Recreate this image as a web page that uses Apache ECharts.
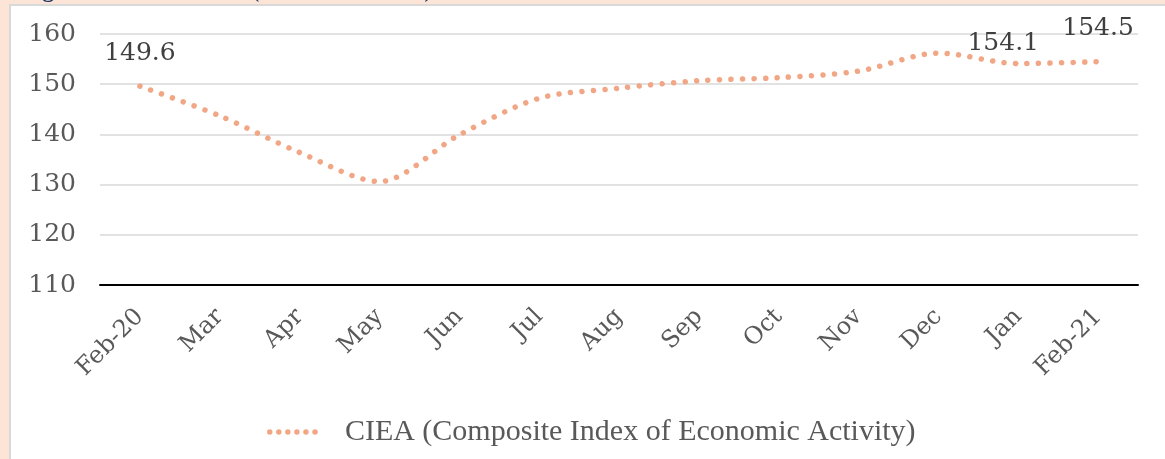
<!DOCTYPE html>
<html lang="en">
<head>
<meta charset="UTF-8">
<title>CIEA</title>
<script src="https://cdn.jsdelivr.net/npm/echarts@6/dist/echarts.min.js"></script>
<style>
  *{margin:0;}
  html,body{height:100%;}
  #chart{width:1165px;height:459px;}
</style>
</head>
<body>
<div id="chart"></div>
<script>
  // months on the x axis
  const months = ['Feb-20','Mar','Apr','May','Jun','Jul','Aug','Sep','Oct','Nov','Dec','Jan','Feb-21'];
  // CIEA values
  const ciea = [149.6, 143.7, 136.4, 130.6, 139.9, 147.2, 149.2, 150.7, 151.3, 152.6, 156.2, 154.1, 154.5];
  // points that show their value
  const labelled = [0, 11, 12];
  // y axis ticks
  const yMin = 110, yMax = 160, yStep = 10;

  const seriesName = 'CIEA (Composite Index of Economic Activity)';
  const lineColor = '#F1A785';
  const textColor = '#595959';

  // six dots for the legend icon
  let dots = '';
  for (let i = 0; i < 6; i++) {
      let cx = 2.75 + i * 9.05;
      dots += `M${cx - 2.75} 2.75a2.75 2.75 0 1 0 5.5 0a2.75 2.75 0 1 0 -5.5 0Z`;
  }

  let chart = echarts.init(document.getElementById('chart'));

  let data = ciea.map((v, i) => {
      if (labelled.indexOf(i) < 0) return {value: v, symbol: 'none'};
      let d = {value: v, label: {show: true}};
      if (i == 11) d.label.offset = [-15, 13];   // Jan label sits lower and to the left
      return d;
  });

  chart.setOption({
      backgroundColor: '#FCE4D6',
      textStyle: {fontFamily: 'DejaVu Serif'},
      graphic: [
          {
              type: 'text', x: 21, y: -9, z: -20,
              style: {
                  text: 'Figure 1: CIEA Index (Feb-20 – Feb-21)',
                  font: 'bold 24px "Liberation Serif"',
                  fill: '#1F3864',
                  verticalAlign: 'middle'
              }
          },
          {
              type: 'rect', z: -10,
              shape: {x: 10, y: 5, width: 1200, height: 500},
              style: {fill: '#fff', stroke: '#D9D9D9', lineWidth: 2}
          }
      ],
      grid: {left: 100, right: 27, top: 34, bottom: 174, containLabel: false},
      legend: {
          left: 262, top: 412,
          itemWidth: 51, itemHeight: 5.5,
          textStyle: {fontFamily: 'Liberation Serif', fontSize: 30, color: textColor, padding: [0, 0, 0, 22]},
          data: [{name: seriesName, icon: 'path://' + dots, itemStyle: {color: lineColor, opacity: 1}}]
      },
      xAxis: {
          type: 'category',
          data: months,
          boundaryGap: true,
          axisLine: {lineStyle: {color: '#000', width: 2}},
          axisTick: {show: false},
          axisLabel: {rotate: 45, margin: 28, fontSize: 24, color: textColor, interval: 0}
      },
      yAxis: {
          type: 'value',
          min: yMin, max: yMax, interval: yStep,
          axisLine: {show: false},
          axisTick: {show: false},
          axisLabel: {fontSize: 25, color: textColor, margin: 24},
          splitLine: {lineStyle: {color: '#D9D9D9', width: 1.5}}
      },
      series: [{
          name: seriesName,
          type: 'line',
          data: data,
          smooth: 0.3,
          symbol: 'circle',
          symbolSize: 1,
          showSymbol: true,
          itemStyle: {color: lineColor},
          lineStyle: {color: lineColor, width: 5.5, type: [0.01, 11.5], cap: 'round'},
          label: {position: 'top', distance: 20, fontSize: 25, color: '#404040', fontFamily: 'DejaVu Serif'}
      }]
  });
</script>
</body>
</html>
